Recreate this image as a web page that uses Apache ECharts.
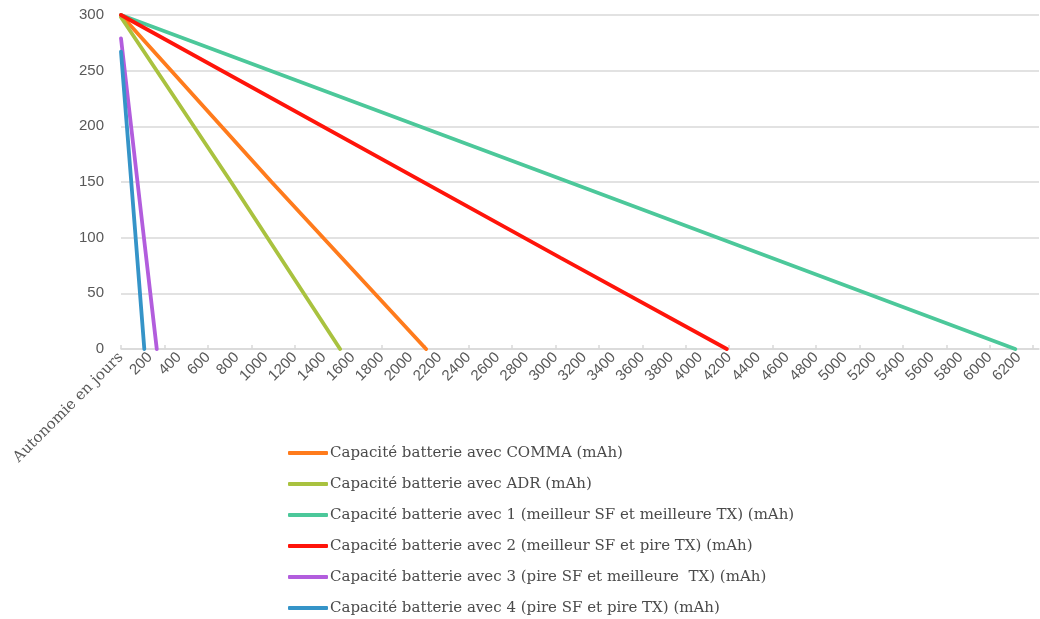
<!DOCTYPE html>
<html>
<head>
<meta charset="utf-8">
<script src="https://cdn.jsdelivr.net/npm/echarts@6/dist/echarts.min.js"></script>
<style>
  html, body { margin: 0; padding: 0; background: #fff; }
  #chart { width: 1040px; height: 619px; }
</style>
</head>
<body>
<div id="chart"></div>
<script>
// series names (legend order)
const seriesNames = [
    'Capacité batterie avec COMMA (mAh)',
    'Capacité batterie avec ADR (mAh)',
    'Capacité batterie avec 1 (meilleur SF et meilleure TX) (mAh)',
    'Capacité batterie avec 2 (meilleur SF et pire TX) (mAh)',
    'Capacité batterie avec 3 (pire SF et meilleure  TX) (mAh)',
    'Capacité batterie avec 4 (pire SF et pire TX) (mAh)'
];

// [jours, mAh]
const comma = [[0, 300], [1040, 150], [2107, 0]];
const adr = [[0, 298], [760, 150], [1513, 0]];
const cfg1 = [[0, 300], [3033, 153], [6176, 0]];
const cfg2 = [[0, 300], [3033, 82], [4184, 0]];
const cfg3 = [[0, 279], [152, 107], [247, 0]];
const cfg4 = [[0, 267], [97, 107], [161, 0]];

// axis labels / ticks
const xLabelValues = [];
for (let v = 0; v <= 6200; v += 200) xLabelValues.push(v);
const xTickValues = [];
for (let v = 0; v <= 6300; v += 300) xTickValues.push(v);
const firstLabel = 'Autonomie en jours';

const colors = ['#ff7b1c', '#a9c23f', '#4cc89a', '#ff140a', '#b25ddd', '#3594c8'];

let chart = echarts.init(document.getElementById('chart'));

let allData = [comma, adr, cfg1, cfg2, cfg3, cfg4];

let option = {
    animation: false,
    color: colors,
    grid: {
        left: 121,
        right: 1,
        top: 15,
        bottom: 270,
        outerBoundsMode: 'none'
    },
    legend: {
        orient: 'vertical',
        left: 288,
        top: 445,
        padding: 0,
        icon: 'roundRect',
        itemWidth: 40,
        itemHeight: 4,
        itemGap: 15,
        textStyle: {
            fontFamily: 'DejaVu Serif',
            fontSize: 15,
            lineHeight: 16,
            color: '#4a4a4a',
            padding: [0, 0, 0, -3]
        },
        data: seriesNames
    },
    xAxis: {
        type: 'value',
        min: 0,
        max: 6340,
        axisLine: { show: true, lineStyle: { color: '#d9d9d9', width: 1.5 } },
        axisTick: {
            show: true,
            inside: true,
            length: 4,
            customValues: xTickValues,
            lineStyle: { color: '#d9d9d9', width: 1.5 }
        },
        splitLine: { show: false },
        axisLabel: {
            customValues: xLabelValues,
            rotate: 45,
            margin: 6,
            color: '#595959',
            fontFamily: 'Liberation Sans',
            fontSize: 15,
            formatter: function (v) {
                return v === 0 ? '{t|' + firstLabel + '}' : String(v);
            },
            rich: {
                t: { fontFamily: 'DejaVu Serif', fontSize: 15, color: '#595959' }
            }
        }
    },
    yAxis: {
        type: 'value',
        min: 0,
        max: 300,
        interval: 50,
        axisLine: { show: false },
        axisTick: { show: false },
        splitLine: { lineStyle: { color: '#d9d9d9', width: 1.5 } },
        axisLabel: {
            margin: 17,
            color: '#595959',
            fontFamily: 'Liberation Sans',
            fontSize: 15
        }
    },
    series: seriesNames.map((name, i) => ({
        name: name,
        type: 'line',
        data: allData[i],
        symbol: 'none',
        lineStyle: { width: 3.8, cap: 'round' }
    }))
};

chart.setOption(option);
</script>
</body>
</html>
